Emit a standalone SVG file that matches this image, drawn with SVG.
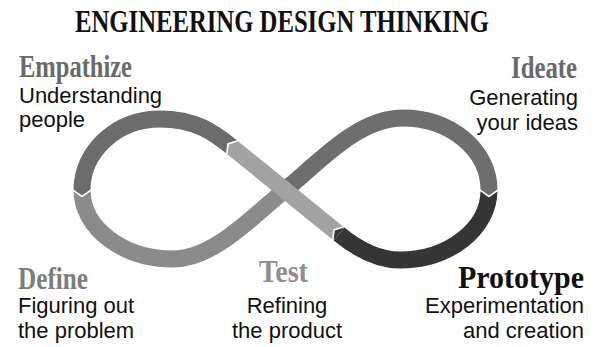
<svg xmlns="http://www.w3.org/2000/svg" width="596" height="347" viewBox="0 0 596 347">
  <style>
    .title { font-family: "Liberation Serif", "Times New Roman", serif; font-weight: bold; font-size: 28px; fill: #111; }
    .stage { font-family: "Liberation Serif", "Times New Roman", serif; font-weight: bold; font-size: 31px; }
    .desc { font-family: "Liberation Sans", Arial, sans-serif; font-size: 22px; fill: #111; }
    .band { fill: none; stroke-width: 17; stroke-linecap: butt; }
    .gap { fill: none; stroke: #fff; stroke-width: 1.6; stroke-linejoin: miter; }
  </style>
  <rect width="596" height="347" fill="#fff"/>

  <!-- heading: tall, tightly set serif -->
  <g transform="translate(282,32) scale(1,1.14)">
    <text class="title" x="0" y="0" text-anchor="middle" textLength="414" lengthAdjust="spacingAndGlyphs">ENGINEERING DESIGN THINKING</text>
  </g>

  <!-- infinity loop, one band per stage -->
  <g id="connectors">
    <path id="band-define" class="band" stroke="#8b8b8b" d="M82,190 C82,228 123,259 173,259 C213,259 250.2,218.5 285,190"/>
    <path id="band-ideate" class="band" stroke="#6e6e6e" d="M285,190 C319.8,161.5 358,118 403,118 C450.5,118 489,150 489,190"/>
    <path id="band-empathize" class="band" stroke="#6c6c6c" d="M233,148 C213.6,132.2 195,119 160,119 C117,119 82,151 82,190"/>
    <path id="band-prototype" class="band" stroke="#353535" d="M489,190 C489,228.7 449,260 400,260 C375,260 354.5,246.7 339,234"/>
    <path id="band-test" class="band" stroke="#a2a2a2" d="M339,234 L233,148"/>

    <!-- chevron heads where one band hands over to the next -->
    <polygon fill="#6c6c6c" points="73,190 91,190 82,196.5"/>
    <polyline class="gap" points="72,189.3 82,196.5 92,189.3"/>
    <polygon fill="#6e6e6e" points="480,190 498,190 489,196.5"/>
    <polyline class="gap" points="479,189.3 489,196.5 499,189.3"/>
    <polygon fill="#a2a2a2" points="238.7,141 227.3,155 228,143.9"/>
    <polyline class="gap" points="239.4,140.2 228,143.9 226.6,155.8"/>
    <polygon fill="#353535" points="344.7,227 333.3,241 334,229.9"/>
    <polyline class="gap" points="345.4,226.2 334,229.9 332.6,241.8"/>
  </g>

  <g id="empathize">
    <text class="stage" x="19" y="77" fill="#6a6a6a" textLength="113" lengthAdjust="spacingAndGlyphs">Empathize</text>
    <text class="desc" x="19" y="103">Understanding</text>
    <text class="desc" x="19" y="127">people</text>
  </g>

  <g id="ideate">
    <text class="stage" x="511" y="78" fill="#6a6a6a" textLength="66" lengthAdjust="spacingAndGlyphs">Ideate</text>
    <text class="desc" x="578" y="105" text-anchor="end">Generating</text>
    <text class="desc" x="578" y="130" text-anchor="end">your ideas</text>
  </g>

  <g id="define">
    <text class="stage" x="18" y="289" fill="#7d7d7d" textLength="70" lengthAdjust="spacingAndGlyphs">Define</text>
    <text class="desc" x="18" y="313">Figuring out</text>
    <text class="desc" x="18" y="338">the problem</text>
  </g>

  <g id="test">
    <text class="stage" x="259" y="282" fill="#8f8f8f" textLength="49" lengthAdjust="spacingAndGlyphs">Test</text>
    <text class="desc" x="287" y="313" text-anchor="middle">Refining</text>
    <text class="desc" x="287" y="338" text-anchor="middle">the product</text>
  </g>

  <g id="prototype">
    <text class="stage" x="458" y="288" fill="#111" textLength="126" lengthAdjust="spacingAndGlyphs">Prototype</text>
    <text class="desc" x="584" y="313" text-anchor="end">Experimentation</text>
    <text class="desc" x="584" y="338" text-anchor="end">and creation</text>
  </g>
</svg>
